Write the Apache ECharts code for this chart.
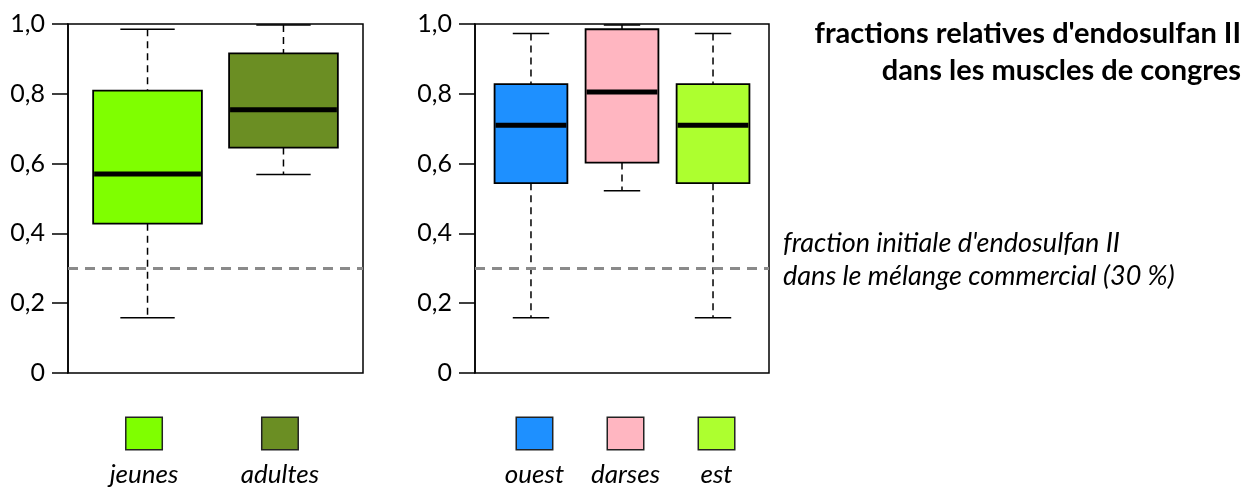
<!DOCTYPE html>
<html>
<head>
<meta charset="utf-8">
<script src="https://cdn.jsdelivr.net/npm/echarts@6/dist/echarts.min.js"></script>
<style>
html,body{margin:0;padding:0;background:#fff;}
#chart{width:1251px;height:488px;}
</style>
</head>
<body>
<div id="chart"></div>
<script>
// ---- data ----
const leftCats = ['jeunes', 'adultes'];
const leftLow  = [0.158, 0.569];
const leftQ1   = [0.428, 0.646];
const leftMed  = [0.570, 0.754];
const leftQ3   = [0.809, 0.916];
const leftHigh = [0.985, 0.997];

const rightCats = ['ouest', 'darses', 'est'];
const rightLow  = [0.158, 0.522, 0.158];
const rightQ1   = [0.544, 0.603, 0.544];
const rightMed  = [0.710, 0.805, 0.710];
const rightQ3   = [0.828, 0.985, 0.828];
const rightHigh = [0.973, 0.997, 0.973];

const refValue = 0.30;
const yTicks = [0, 0.2, 0.4, 0.6, 0.8, 1.0];

const titleText = "fractions relatives d'endosulfan II\ndans les muscles de congres";
const noteText = "fraction initiale d'endosulfan II\ndans le mélange commercial (30 %)";

// ---- styles ----
const leftColors = ['#7FFF00', '#6B8E23'];
const rightColors = ['#1E90FF', '#FFB6C1', '#ADFF2F'];
const FONT = 'Lato';

function buildRows(low, q1, med, q3, high) {
  return low.map((_, i) => [i + 1, low[i], q1[i], med[i], q3[i], high[i]]);
}

function makeRender(colors) {
  return function (params, api) {
    const x = api.value(0);
    const pLow = api.coord([x, api.value(1)]);
    const pQ1 = api.coord([x, api.value(2)]);
    const pMed = api.coord([x, api.value(3)]);
    const pQ3 = api.coord([x, api.value(4)]);
    const pHigh = api.coord([x, api.value(5)]);
    const unit = api.size([1, 0])[0];
    const bw = unit * 0.8, cw = unit * 0.4;
    const cx = pMed[0];
    const dash = { stroke: '#000', lineWidth: 1.5, lineDash: [7, 5] };
    const solid = { stroke: '#000', lineWidth: 1.5 };
    return {
      type: 'group',
      children: [
        { type: 'line', shape: { x1: cx, y1: pHigh[1], x2: cx, y2: pQ3[1] }, style: dash },
        { type: 'line', shape: { x1: cx, y1: pQ1[1], x2: cx, y2: pLow[1] }, style: dash },
        { type: 'line', shape: { x1: cx - cw / 2, y1: pHigh[1], x2: cx + cw / 2, y2: pHigh[1] }, style: solid },
        { type: 'line', shape: { x1: cx - cw / 2, y1: pLow[1], x2: cx + cw / 2, y2: pLow[1] }, style: solid },
        { type: 'rect', shape: { x: cx - bw / 2, y: pQ3[1], width: bw, height: pQ1[1] - pQ3[1] },
          style: { fill: colors[params.dataIndex], stroke: '#000', lineWidth: 1.8 } },
        { type: 'line', shape: { x1: cx - bw / 2 + 1, y1: pMed[1], x2: cx + bw / 2 - 1, y2: pMed[1] },
          style: { stroke: '#000', lineWidth: 5 } }
      ]
    };
  };
}

function richFor(colors) {
  const r = {
    t: { fontFamily: FONT, fontStyle: 'italic', fontSize: 26, lineHeight: 52, color: '#000' }
  };
  colors.forEach((c, i) => {
    r['s' + i] = { width: 35, height: 31, backgroundColor: c, borderColor: '#222', borderWidth: 1.5 };
  });
  return r;
}

function yAxisCfg(gridIndex) {
  return {
    type: 'value', gridIndex, min: 0, max: 1, interval: 0.2,
    axisLine: { show: true, lineStyle: { color: '#000', width: 1.5 } },
    axisTick: { show: true, inside: false, length: 16, lineStyle: { color: '#000', width: 1.5 } },
    splitLine: { show: false },
    axisLabel: {
      margin: 23, color: '#000', fontFamily: FONT, fontSize: 25,
      formatter: v => {
        const t = yTicks.find(k => Math.abs(k - v) < 1e-6);
        if (t === undefined) return '';
        return t === 0 ? '0' : t.toFixed(1).replace('.', ',');
      }
    }
  };
}

function xAxisCfg(gridIndex, cats, colors, padding, half) {
  return {
    type: 'value', gridIndex, min: 1 - half, max: cats.length + half,
    axisLine: { show: false }, axisTick: { show: false }, splitLine: { show: false },
    axisLabel: {
      customValues: cats.map((_, i) => i + 1),
      margin: 45, padding,
      formatter: v => {
        const i = Math.round(v) - 1;
        return '{s' + i + '| }\n{t|' + cats[i] + '}';
      },
      rich: richFor(colors)
    }
  };
}

const refLine = {
  silent: true, symbol: 'none',
  label: { show: false },
  lineStyle: { color: '#8a8a8a', width: 3, type: [10, 7] },
  data: [{ yAxis: refValue }]
};

const chart = echarts.init(document.getElementById('chart'), null, { renderer: 'canvas' });
chart.setOption({
  animation: false,
  backgroundColor: '#fff',
  grid: [
    { left: 68, top: 24, width: 295, height: 349, show: true, borderColor: '#000', borderWidth: 1.5, backgroundColor: 'transparent' },
    { left: 475, top: 24, width: 294, height: 349, show: true, borderColor: '#000', borderWidth: 1.5, backgroundColor: 'transparent' }
  ],
  xAxis: [
    xAxisCfg(0, leftCats, leftColors, [0, 7, 0, 0], 0.585),
    xAxisCfg(1, rightCats, rightColors, [0, 0, 0, 7], 0.615)
  ],
  yAxis: [yAxisCfg(0), yAxisCfg(1)],
  series: [
    {
      type: 'custom', xAxisIndex: 0, yAxisIndex: 0,
      data: buildRows(leftLow, leftQ1, leftMed, leftQ3, leftHigh),
      encode: { x: 0, y: [1, 2, 3, 4, 5] },
      renderItem: makeRender(leftColors),
      markLine: refLine, z: 2
    },
    {
      type: 'custom', xAxisIndex: 1, yAxisIndex: 1,
      data: buildRows(rightLow, rightQ1, rightMed, rightQ3, rightHigh),
      encode: { x: 0, y: [1, 2, 3, 4, 5] },
      renderItem: makeRender(rightColors),
      markLine: refLine, z: 2
    }
  ],
  graphic: [
    {
      type: 'text', x: 1241, y: 15,
      style: { text: titleText, font: 'bold 29px Lato', fill: '#000', align: 'right', verticalAlign: 'top', lineHeight: 37 }
    },
    {
      type: 'text', x: 783, y: 227,
      style: { text: noteText, font: 'italic 27px Lato', fill: '#000', align: 'left', verticalAlign: 'top', lineHeight: 33 }
    }
  ]
});
</script>
</body>
</html>
